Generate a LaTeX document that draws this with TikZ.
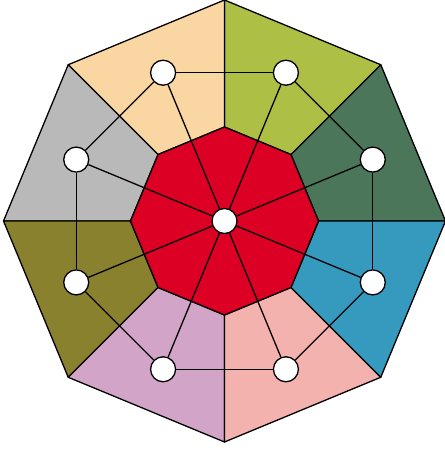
\documentclass[tikz,border=0pt]{standalone}
\usetikzlibrary{calc}
\pgfdeclarelayer{back}
\pgfdeclarelayer{mid}
\pgfsetlayers{back,mid,main}
\definecolor{cPeach}{HTML}{F9D6A2}
\definecolor{cLime}{HTML}{AEBF46}
\definecolor{cDkGreen}{HTML}{4B765A}
\definecolor{cBlue}{HTML}{3699BE}
\definecolor{cPink}{HTML}{F4B2AE}
\definecolor{cMauve}{HTML}{D2A5C8}
\definecolor{cOlive}{HTML}{8A812E}
\definecolor{cGray}{HTML}{B9B9B9}
\definecolor{cRed}{HTML}{DC0025}
\tikzset{
  sector/.style={draw=black, line width=1.3pt, line join=round},
  dot/.style={circle, draw=black, fill=white, line width=1.3pt, minimum size=25pt, inner sep=0pt},
  link/.style={draw=black, line width=1.3pt}
}
\begin{document}
\begin{tikzpicture}[x=1pt,y=1pt]
\useasboundingbox (0,0) rectangle (445,451);
\coordinate (c) at (224.5,230);
\def\Ro{221}
\def\Ri{94}
\def\Rn{160.5}
% sectors
\begin{pgfonlayer}{back}
\foreach \a/\col in {0/cDkGreen,45/cLime,90/cPeach,135/cGray,180/cOlive,225/cMauve,270/cPink,315/cBlue}{
  \pgfmathsetmacro\b{\a+45}
  \path[sector, fill=\col] ($(c)+(\a:\Ri)$) -- ($(c)+(\a:\Ro)$) -- ($(c)+(\b:\Ro)$) -- ($(c)+(\b:\Ri)$) -- cycle;
}
\path[sector, fill=cRed] ($(c)+(0:\Ri)$) \foreach \a in {45,90,...,315}{ -- ($(c)+(\a:\Ri)$)} -- cycle;
\end{pgfonlayer}
% nodes
\node[dot] (n0) at (c) {};
\foreach \i in {1,...,8}{
  \pgfmathsetmacro\ang{22.5+45*(\i-1)}
  \node[dot] (n\i) at ($(c)+(\ang:\Rn)$) {};
}
% connectors
\begin{pgfonlayer}{mid}
\foreach \i in {1,...,8}{
  \draw[link] (n0) -- (n\i);
}
\foreach \i/\j in {1/2,2/3,3/4,4/5,5/6,6/7,7/8,8/1}{
  \draw[link] (n\i) -- (n\j);
}
\end{pgfonlayer}
\end{tikzpicture}
\end{document}
